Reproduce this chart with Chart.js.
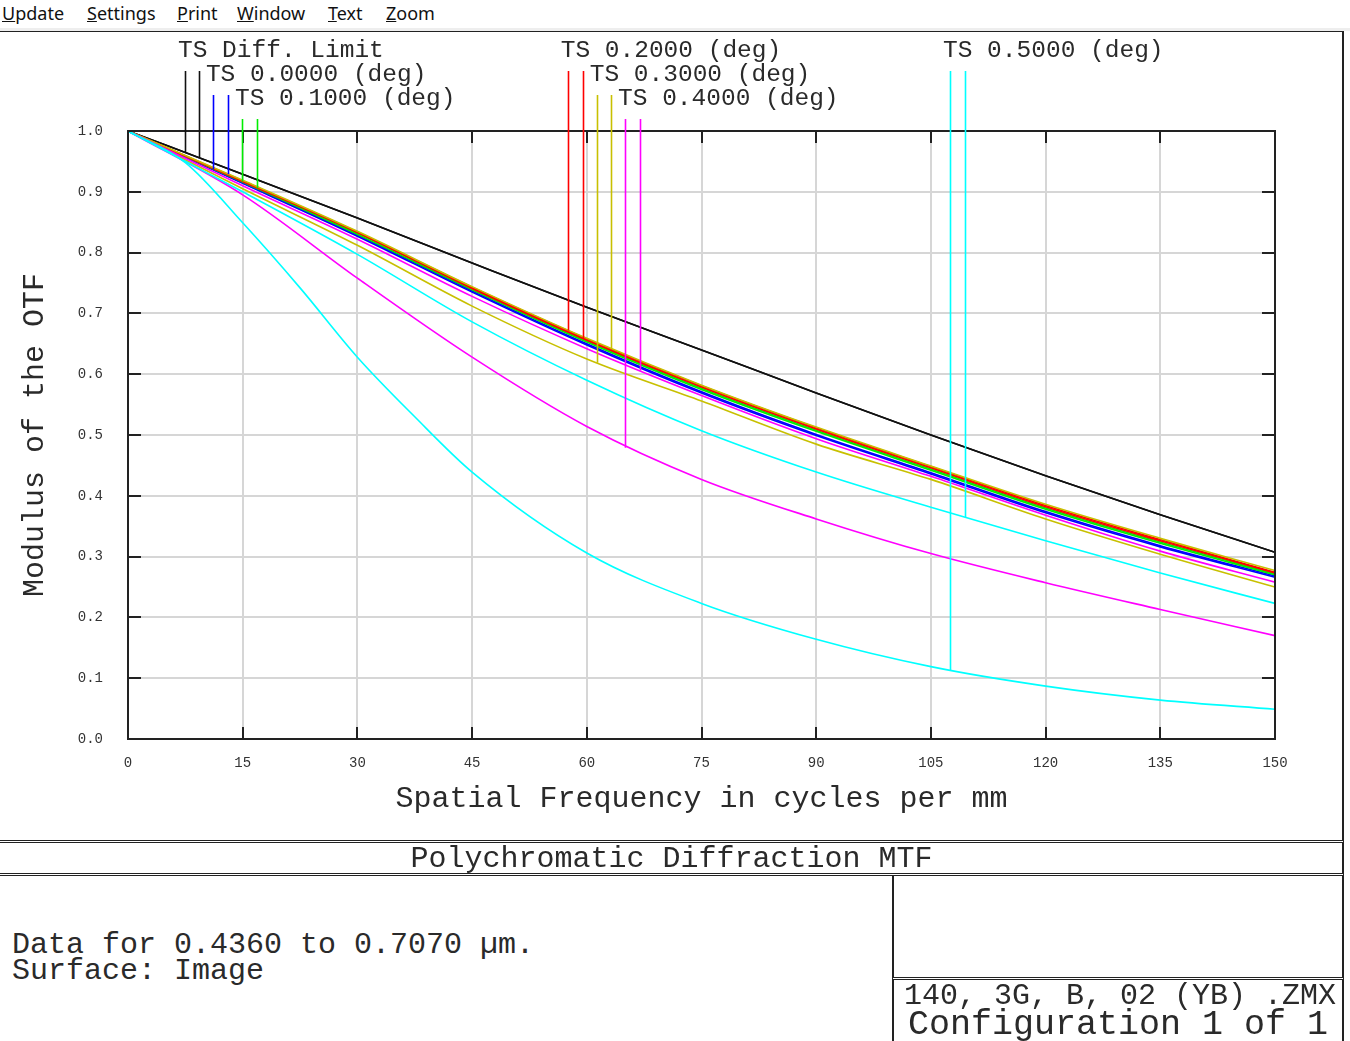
<!DOCTYPE html>
<html>
<head>
<meta charset="utf-8">
<script src="https://cdn.jsdelivr.net/npm/chart.js@4.4.1/dist/chart.umd.min.js"></script>
<style>
  body { margin: 0; background: #fff; width: 1350px; height: 1041px; position: relative; overflow: hidden;
         font-family: 'Liberation Mono', 'Courier New', monospace; color: #2a2a2a; }
  #menu { position: absolute; left: 0; top: 0; width: 1350px; height: 28px; background: #fff;
          font-family: 'Noto Sans', sans-serif; font-size: 18px; color: #111; z-index: 3; }
  #menu span { position: absolute; top: 0px; line-height: 27px; }
  #band { position: absolute; left: 0; top: 28px; width: 1350px; height: 3px; background: #eee; z-index: 3; }
  #wrap { position: absolute; left: 0; top: 0; width: 1350px; height: 841px; z-index: 1; }
  .ln { position: absolute; background: #fff; border-top: 1px solid #222; border-bottom: 1px solid #222; height: 1px; z-index: 2; }
  .vl { position: absolute; border-left: 2px solid #222; z-index: 2; }
  .tx { position: absolute; white-space: pre; z-index: 2; line-height: 1; }
</style>
</head>
<body>
<div id="menu">
  <span style="left:2px"><u>U</u>pdate</span>
  <span style="left:87px"><u>S</u>ettings</span>
  <span style="left:177px"><u>P</u>rint</span>
  <span style="left:237px"><u>W</u>indow</span>
  <span style="left:328px"><u>T</u>ext</span>
  <span style="left:386px"><u>Z</u>oom</span>
</div>
<div id="band"></div>
<div class="ln" style="left:0;top:30px;width:1344px;height:0;border-bottom:none;border-top:2px solid #222"></div>
<div class="vl" style="left:1342px;top:31px;height:1010px"></div>
<div id="wrap"><canvas id="mtf" width="1350" height="841"></canvas></div>

<div class="ln" style="left:0;top:840px;width:1343px"></div>
<div class="ln" style="left:0;top:873px;width:1343px"></div>
<div class="vl" style="left:892px;top:875px;height:166px"></div>
<div class="ln" style="left:893px;top:977px;width:450px"></div>

<div class="tx" style="left:0;width:1343px;text-align:center;top:844px;font-size:30px">Polychromatic Diffraction MTF</div>
<div class="tx" style="left:12px;top:930px;font-size:30px">Data for 0.4360 to 0.7070 µm.</div>
<div class="tx" style="left:12px;top:956px;font-size:30px">Surface: Image</div>
<div class="tx" style="left:904px;top:981px;font-size:30px">140, 3G, B, 02 (YB) .ZMX</div>
<div class="tx" style="left:908px;top:1008px;font-size:35px">Configuration 1 of 1</div>

<script>
// spatial frequency samples (cycles/mm)
const freq = [0, 15, 30, 45, 60, 75, 90, 105, 120, 135, 150];
const freqFine = [0, 7.5, 15, 22.5, 30, 37.5, 45, 60, 75, 90, 105, 120, 135, 150];

// MTF readings
const diffLimit = [1.000, 0.929, 0.857, 0.783, 0.710, 0.640, 0.569, 0.500, 0.433, 0.369, 0.307];
const f00T = [1.000, 0.914, 0.827, 0.735, 0.648, 0.569, 0.499, 0.436, 0.372, 0.316, 0.266];
const f00S = [1.000, 0.915, 0.829, 0.737, 0.650, 0.571, 0.501, 0.438, 0.374, 0.318, 0.268];
const f01T = [1.000, 0.916, 0.830, 0.739, 0.653, 0.575, 0.506, 0.442, 0.378, 0.322, 0.270];
const f01S = [1.000, 0.917, 0.832, 0.741, 0.655, 0.577, 0.508, 0.444, 0.380, 0.324, 0.272];
const f02T = [1.000, 0.918, 0.834, 0.743, 0.658, 0.581, 0.512, 0.448, 0.384, 0.328, 0.274];
const f02S = [1.000, 0.917, 0.833, 0.741, 0.656, 0.579, 0.510, 0.446, 0.382, 0.326, 0.273];
const f03T = [1.000, 0.905, 0.812, 0.712, 0.625, 0.556, 0.485, 0.427, 0.362, 0.304, 0.250];
const f03S = [1.000, 0.919, 0.835, 0.744, 0.659, 0.582, 0.513, 0.449, 0.386, 0.330, 0.277];
const f04T = [1.000, 0.895, 0.758, 0.628, 0.514, 0.427, 0.362, 0.305, 0.257, 0.213, 0.170];
const f04S = [1.000, 0.910, 0.822, 0.728, 0.642, 0.565, 0.494, 0.432, 0.368, 0.309, 0.258];
const f05T = [1.000, 0.948, 0.849, 0.742, 0.628, 0.530, 0.439, 0.306, 0.223, 0.164, 0.119, 0.087, 0.064, 0.049];
const f05S = [1.000, 0.900, 0.797, 0.686, 0.590, 0.507, 0.439, 0.381, 0.326, 0.273, 0.223];

// legend labels and their leader lines (T, S per field)
const fieldLabels = ['TS Diff. Limit', 'TS 0.0000 (deg)', 'TS 0.1000 (deg)', 'TS 0.2000 (deg)',
                     'TS 0.3000 (deg)', 'TS 0.4000 (deg)', 'TS 0.5000 (deg)'];
const leaderFreq = [7.45, 9.3, 11.1, 13.1, 14.9, 16.9, 57.5, 59.5, 61.3, 63.2, 65.0, 67.0, 107.5, 109.5];
const leaderEnd  = [0.965, 0.957, 0.937, 0.929, 0.917, 0.906, 0.672, 0.659, 0.619, 0.643, 0.479, 0.606, 0.113, 0.365];

const colors = ['#111111', '#0000ff', '#00ee00', '#ff0000', '#c8c000', '#ff00ff', '#00ffff'];
const labelRow = [0, 1, 2, 0, 1, 2, 0];
const rowTop = [71, 95, 119];
const mono = "'Liberation Mono', 'Courier New', monospace";

const series = [
  [diffLimit, 0], [diffLimit, 0],
  [f00T, 1], [f00S, 1], [f01T, 2], [f01S, 2], [f02T, 3], [f02S, 3],
  [f03T, 4], [f03S, 4], [f04T, 5], [f04S, 5], [f05T, 6, freqFine], [f05S, 6]
];

const pts = (arr, xs) => xs.map((f, i) => ({ x: f, y: arr[i] }));

const datasets = series.map(([arr, c, xs], i) => ({
  data: pts(arr, xs || freq),
  borderColor: colors[c],
  borderWidth: 1.6,
  pointRadius: 0,
  cubicInterpolationMode: 'monotone',
  order: 14 - i
}));

const zemaxFrame = {
  id: 'zemaxFrame',
  beforeDatasetsDraw(chart) {
    const { ctx, chartArea: a, scales: { x, y } } = chart;
    ctx.save();
    ctx.strokeStyle = '#222';
    ctx.lineWidth = 2;
    ctx.beginPath();
    x.ticks.forEach(t => {
      const px = Math.round(x.getPixelForValue(t.value));
      ctx.moveTo(px, a.top); ctx.lineTo(px, a.top + 12);
      ctx.moveTo(px, a.bottom); ctx.lineTo(px, a.bottom - 12);
    });
    y.ticks.forEach(t => {
      const py = Math.round(y.getPixelForValue(t.value));
      ctx.moveTo(a.left, py); ctx.lineTo(a.left + 13, py);
      ctx.moveTo(a.right, py); ctx.lineTo(a.right - 13, py);
    });
    ctx.stroke();
    ctx.restore();
  },
  afterDatasetsDraw(chart) {
    const { ctx, chartArea: a, scales: { x, y } } = chart;
    ctx.save();
    // plot border
    ctx.strokeStyle = '#222';
    ctx.lineWidth = 2;
    ctx.strokeRect(a.left, a.top, a.right - a.left, a.bottom - a.top);
    // leaders
    ctx.lineWidth = 1.6;
    leaderFreq.forEach((f, i) => {
      const field = Math.floor(i / 2);
      const px = Math.round(x.getPixelForValue(f)) + 0.5;
      ctx.strokeStyle = colors[field];
      ctx.beginPath();
      ctx.moveTo(px, rowTop[labelRow[field]]);
      ctx.lineTo(px, y.getPixelForValue(leaderEnd[i]));
      ctx.stroke();
    });
    // labels
    ctx.fillStyle = '#2a2a2a';
    ctx.font = '24.5px ' + mono;
    ctx.textBaseline = 'middle';
    fieldLabels.forEach((txt, k) => {
      const px = x.getPixelForValue(leaderFreq[k * 2]) - 7;
      ctx.fillText(txt, px, rowTop[labelRow[k]] - 20);
    });
    ctx.restore();
  }
};

new Chart(document.getElementById('mtf'), {
  type: 'line',
  data: { datasets },
  plugins: [zemaxFrame],
  options: {
    responsive: false,
    animation: false,
    layout: { padding: { left: 0, top: 131, right: 75, bottom: 22 } },
    plugins: { legend: { display: false }, tooltip: { enabled: false } },
    scales: {
      x: {
        type: 'linear', min: 0, max: 150,
        ticks: { stepSize: 15, padding: 16, maxRotation: 0, autoSkip: false, color: '#333',
                 font: { family: mono, size: 14 } },
        grid: { color: '#d6d6d6', lineWidth: 2, drawTicks: false },
        border: { display: false },
        title: { display: true, text: 'Spatial Frequency in cycles per mm', color: '#2a2a2a',
                 font: { family: mono, size: 30 }, padding: { top: 0, bottom: 2 } },
        afterFit: (s) => { s.height = 80; }
      },
      y: {
        type: 'linear', min: 0, max: 1,
        ticks: { stepSize: 0.1, padding: 25, color: '#333', callback: (v) => v.toFixed(1),
                 font: { family: mono, size: 14 } },
        grid: { color: '#d6d6d6', lineWidth: 2, drawTicks: false },
        border: { display: false },
        title: { display: true, text: 'Modulus of the OTF', color: '#2a2a2a',
                 font: { family: mono, size: 30 }, padding: { top: 17, bottom: 0 } },
        afterFit: (s) => { s.width = 128; }
      }
    }
  }
});
</script>
</body>
</html>
